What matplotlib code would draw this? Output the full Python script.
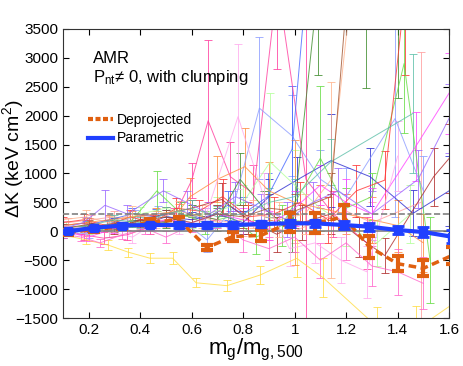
import matplotlib
matplotlib.use('Agg')
import matplotlib.pyplot as plt

# stacked-average profiles
param_x = [0.12, 0.22, 0.33, 0.44, 0.55, 0.66, 0.76, 0.87, 0.98, 1.08, 1.19, 1.29, 1.40, 1.50, 1.61]
param_y = [0, 60, 100, 110, 110, 110, 109, 126, 138, 138, 109, 80, 22, -12, -93]
param_e = [30, 35, 40, 40, 45, 45, 50, 55, 60, 60, 65, 70, 75, 85, 110]

deproj_x = [0.12, 0.22, 0.33, 0.44, 0.55, 0.66, 0.76, 0.87, 0.98, 1.08, 1.19, 1.29, 1.40, 1.50, 1.61]
deproj_y = [-20, 30, 80, 160, 195, -280, -90, -70, 150, 140, 250, -270, -560, -640, -420]
deproj_e = [40, 40, 45, 50, 55, 50, 80, 90, 170, 170, 200, 190, 130, 140, 150]

# individual clusters
yellow_x = [0.10, 0.19, 0.275, 0.353, 0.438, 0.526, 0.617, 0.737, 0.866, 1.008, 1.11, 1.32, 1.47, 1.62]
yellow_y = [-60, -150, -237, -360, -465, -465, -890, -940, -756, -467, -800, -1650, -1700, -1240]
yellow_e = [60, 70, 80, 80, 90, 100, 80, 90, 150, 320, 330, 340, 400, 450]

hotpink_x = [0.10, 0.18, 0.26, 0.35, 0.44, 0.53, 0.60, 0.664, 0.75, 0.84, 0.933, 1.044, 1.15, 1.28]
hotpink_y = [20, -60, -120, -60, 80, 250, 880, 1913, 945, 650, 4300, 900, 300, -200]
hotpink_e = [80, 90, 100, 90, 120, 150, 300, 1400, 600, 500, 1500, 2700, 400, 450]

salmon_x = [0.12, 0.21, 0.30, 0.40, 0.50, 0.60, 0.70, 0.80, 0.90, 1.00, 1.10, 1.20, 1.30, 1.49]
salmon_y = [150, 200, 250, 150, 200, 300, 200, 100, 50, 0, 200, 350, 150, 500]
salmon_e = [80, 90, 100, 110, 120, 150, 150, 180, 200, 200, 250, 300, 350, 2600]

ltblue_x = [0.11, 0.20, 0.29, 0.38, 0.47, 0.56, 0.66, 0.76, 0.863, 0.99, 1.10, 1.20, 1.39, 1.50]
ltblue_y = [0, -50, 150, 250, 300, 200, -150, 400, 2130, 1650, 900, 600, 1950, 700]
ltblue_e = [60, 70, 90, 110, 130, 150, 200, 300, 1230, 700, 500, 500, 1700, 600]

blue_x = [0.10, 0.19, 0.28, 0.37, 0.46, 0.56, 0.65, 0.74, 0.80, 0.895, 0.99, 1.06]
blue_y = [0, 100, 200, 300, 250, 350, 200, 450, 300, 600, 1420, 5000]
blue_e = [70, 80, 90, 110, 130, 150, 200, 250, 300, 400, 1100, 1500]

dkblue_x = [0.10, 0.20, 0.30, 0.40, 0.50, 0.60, 0.70, 0.80, 0.90, 1.008, 1.14, 1.293, 1.46, 1.60]
dkblue_y = [-50, 50, 150, 100, 250, 200, 300, 150, 600, 885, 1220, 945, 311, 700]
dkblue_e = [60, 70, 80, 90, 110, 130, 150, 200, 300, 400, 800, 500, 400, 600]

green_x = [0.10, 0.19, 0.28, 0.37, 0.465, 0.56, 0.65, 0.75, 0.85, 0.95, 1.10, 1.20, 1.30, 1.425, 1.526]
green_y = [50, 100, 0, 200, 700, 300, 150, 250, -100, 100, 1263, 400, 600, 2900, -500]
green_e = [80, 90, 100, 120, 350, 200, 200, 250, 300, 350, 1250, 350, 400, 1200, 740]

ltgreen_x = [0.11, 0.20, 0.30, 0.40, 0.50, 0.60, 0.70, 0.80, 0.905, 1.00, 1.10, 1.20, 1.32, 1.45]
ltgreen_y = [100, 50, 150, 300, 400, 250, 350, 500, 1200, 800, 400, 100, -200, 300]
ltgreen_e = [80, 90, 100, 120, 300, 200, 250, 300, 1200, 600, 400, 350, 400, 500]

dkgreen_x = [0.10, 0.20, 0.30, 0.40, 0.50, 0.60, 0.70, 0.788, 0.88, 0.99, 1.09, 1.276, 1.40]
dkgreen_y = [0, 80, 120, 200, 150, 300, 200, 900, 400, 0, 4200, 4000, 3800]
dkgreen_e = [60, 70, 80, 90, 100, 150, 200, 450, 300, 350, 1500, 1515, 1500]

dkred_x = [0.10, 0.20, 0.30, 0.40, 0.50, 0.60, 0.717, 0.82, 0.93, 1.03, 1.14, 1.25, 1.35, 1.54, 1.60]
dkred_y = [100, 150, 50, 200, 300, 400, 550, 200, -50, 150, 300, -100, -420, 945, 1260]
dkred_e = [70, 80, 90, 100, 120, 150, 280, 250, 300, 300, 350, 350, 300, 500, 600]

red_x = [0.10, 0.18, 0.27, 0.36, 0.45, 0.54, 0.63, 0.72, 0.82, 0.92, 1.02, 1.13, 1.24, 1.35, 1.43]
red_y = [150, 200, 100, 250, 150, 400, 350, 600, 250, 300, 500, 200, 700, 885, 4200]
red_e = [90, 100, 100, 120, 130, 180, 200, 300, 250, 300, 350, 400, 450, 500, 1500]

orange_x = [0.10, 0.19, 0.28, 0.37, 0.46, 0.55, 0.594, 0.70, 0.807, 0.90, 1.00, 1.10, 1.20, 1.30, 1.40, 1.50]
orange_y = [100, 150, 200, 250, 300, 350, 600, 900, 1118, 700, 500, 400, 300, 200, 100, -200]
orange_e = [70, 80, 90, 100, 110, 130, 330, 400, 660, 500, 1080, 400, 350, 400, 450, 500]

peach_x = [0.10, 0.19, 0.28, 0.37, 0.46, 0.55, 0.64, 0.74, 0.84, 0.94, 1.04, 1.14, 1.24]
peach_y = [200, 250, 150, 300, 200, 350, 250, 100, 300, 200, 300, 885, 5000]
peach_e = [100, 110, 120, 130, 150, 170, 200, 220, 250, 300, 350, 1700, 1500]

teal_x = [0.10, 0.20, 0.30, 0.40, 0.50, 0.60, 0.70, 0.80, 0.90, 1.00, 1.14, 1.46]
teal_y = [50, 100, 200, 150, 300, 400, 250, 300, 500, 600, 1200, 2040]
teal_e = [70, 80, 90, 100, 120, 150, 180, 200, 250, 300, 400, 1030]

violet_x = [0.10, 0.18, 0.263, 0.35, 0.49, 0.58, 0.67, 0.77, 0.87, 0.97, 1.07, 1.17, 1.30, 1.48, 1.60]
violet_y = [50, 150, 450, 300, 700, 500, 300, 600, 400, 200, 500, 700, 300, 900, 1955]
violet_e = [80, 100, 265, 150, 200, 200, 200, 250, 250, 300, 350, 400, 400, 500, 600]

magenta_x = [0.10, 0.20, 0.30, 0.40, 0.50, 0.60, 0.70, 0.80, 0.90, 1.00, 1.10, 1.20, 1.30, 1.47, 1.60]
magenta_y = [0, -100, 50, 100, 200, 150, 300, 200, 100, 400, 800, 500, 300, 1465, 2390]
magenta_e = [60, 70, 80, 90, 100, 120, 150, 200, 250, 300, 350, 400, 450, 600, 700]

ltpink_x = [0.10, 0.19, 0.28, 0.37, 0.46, 0.55, 0.65, 0.78, 0.88, 0.98, 1.08, 1.18, 1.28, 1.40]
ltpink_y = [100, 50, 0, -100, 150, 100, 200, 1983, 600, -300, -200, -500, -700, 1300]
ltpink_e = [70, 80, 90, 100, 120, 150, 200, 1250, 400, 300, 350, 400, 450, 600]

pink_x = [0.10, 0.17, 0.244, 0.33, 0.42, 0.50, 0.60, 0.70, 0.80, 0.90, 1.00, 1.10, 1.20, 1.30, 1.40, 1.50]
pink_y = [-50, -100, -200, -60, 50, -100, 100, 200, -150, -300, -100, -500, -200, -600, -700, -900]
pink_e = [60, 60, 70, 80, 90, 100, 120, 150, 200, 200, 250, 300, 300, 350, 400, 450]

brown_x = [0.10, 0.20, 0.30, 0.40, 0.50, 0.60, 0.70, 0.80, 0.90, 1.00, 1.14, 1.22]
brown_y = [50, 120, 80, 180, 250, 150, 300, 250, 400, 350, 600, 5000]
brown_e = [70, 80, 90, 100, 110, 130, 150, 200, 250, 300, 400, 1500]

clusters = [
    (yellow_x, yellow_y, yellow_e, '#ffdd44'),
    (hotpink_x, hotpink_y, hotpink_e, '#ff3d9e'),
    (salmon_x, salmon_y, salmon_e, '#ff9c9c'),
    (ltblue_x, ltblue_y, ltblue_e, '#8c9cff'),
    (blue_x, blue_y, blue_e, '#4466ff'),
    (dkblue_x, dkblue_y, dkblue_e, '#2a2ad0'),
    (green_x, green_y, green_e, '#66dd44'),
    (ltgreen_x, ltgreen_y, ltgreen_e, '#b3ff99'),
    (dkgreen_x, dkgreen_y, dkgreen_e, '#3d8c2a'),
    (dkred_x, dkred_y, dkred_e, '#b02a2a'),
    (red_x, red_y, red_e, '#ff3333'),
    (orange_x, orange_y, orange_e, '#ff8c3d'),
    (peach_x, peach_y, peach_e, '#ffb38c'),
    (teal_x, teal_y, teal_e, '#5cbfa8'),
    (violet_x, violet_y, violet_e, '#9966ff'),
    (magenta_x, magenta_y, magenta_e, '#ff44ff'),
    (ltpink_x, ltpink_y, ltpink_e, '#ffaaee'),
    (pink_x, pink_y, pink_e, '#ff66cc'),
    (brown_x, brown_y, brown_e, '#a0522d'),
]

plt.rcParams['font.family'] = ['Liberation Sans', 'DejaVu Sans']
plt.rcParams['mathtext.fontset'] = 'custom'
plt.rcParams['mathtext.rm'] = 'Liberation Sans'
plt.rcParams['mathtext.it'] = 'Liberation Sans'
fig = plt.figure(figsize=(4.63, 3.66), dpi=100)
ax = fig.add_axes([0.136, 0.131, 0.834, 0.79])

for cx, cy, ce, col in clusters:
    ax.errorbar(cx, cy, yerr=ce, color=col, lw=0.7, elinewidth=0.7,
                capsize=3, capthick=0.7, alpha=0.8, zorder=2)

ax.axhline(0, color='#808080', lw=1.2, zorder=3)
ax.axhline(300, color='#808080', lw=1.2, ls='--', zorder=3)

ax.errorbar(deproj_x, deproj_y, yerr=deproj_e, color='#e06010', lw=2.5, ls=(0, (2.2, 1.3)),
            elinewidth=3, capsize=4, capthick=3, zorder=4, label='Deprojected')
ax.errorbar(param_x, param_y, yerr=param_e, color='#2040ff', lw=3, marker='s', ms=6,
            elinewidth=2, capsize=4, capthick=2, zorder=5, label='Parametric')

ax.set_xlim(0.1, 1.6)
ax.set_ylim(-1500, 3500)
ax.set_xticks([0.2, 0.4, 0.6, 0.8, 1.0, 1.2, 1.4, 1.6])
ax.set_xticklabels(['0.2', '0.4', '0.6', '0.8', '1', '1.2', '1.4', '1.6'])
ax.set_yticks(range(-1500, 3501, 500))
ax.tick_params(direction='in', top=True, right=True, labelsize=11, length=4)
for sp in ax.spines.values():
    sp.set_color('#333333')

ax.set_xlabel('m$_\\mathrm{g}$/m$_\\mathrm{g,500}$', fontsize=16, labelpad=0)
ax.set_ylabel('ΔK (keV cm$^\\mathrm{2}$)', fontsize=14)
ax.yaxis.set_label_coords(-0.095, 0.55)

ax.text(0.078, 0.882, 'AMR', transform=ax.transAxes, fontsize=12)
ax.text(0.078, 0.818, 'P$_\\mathrm{nt}$≠ 0, with clumping', transform=ax.transAxes, fontsize=12)

h, l = ax.get_legend_handles_labels()
leg = ax.legend([plt.Line2D([], [], color='#e06010', lw=3, ls=(0, (1.2, 0.6))),
                 plt.Line2D([], [], color='#2040ff', lw=3)], l,
                loc='upper left', bbox_to_anchor=(0.05, 0.73), frameon=False,
                fontsize=10, handlelength=1.8, handletextpad=0.3, labelspacing=0.35,
                borderaxespad=0)

fig.savefig('out.png', dpi=100)
